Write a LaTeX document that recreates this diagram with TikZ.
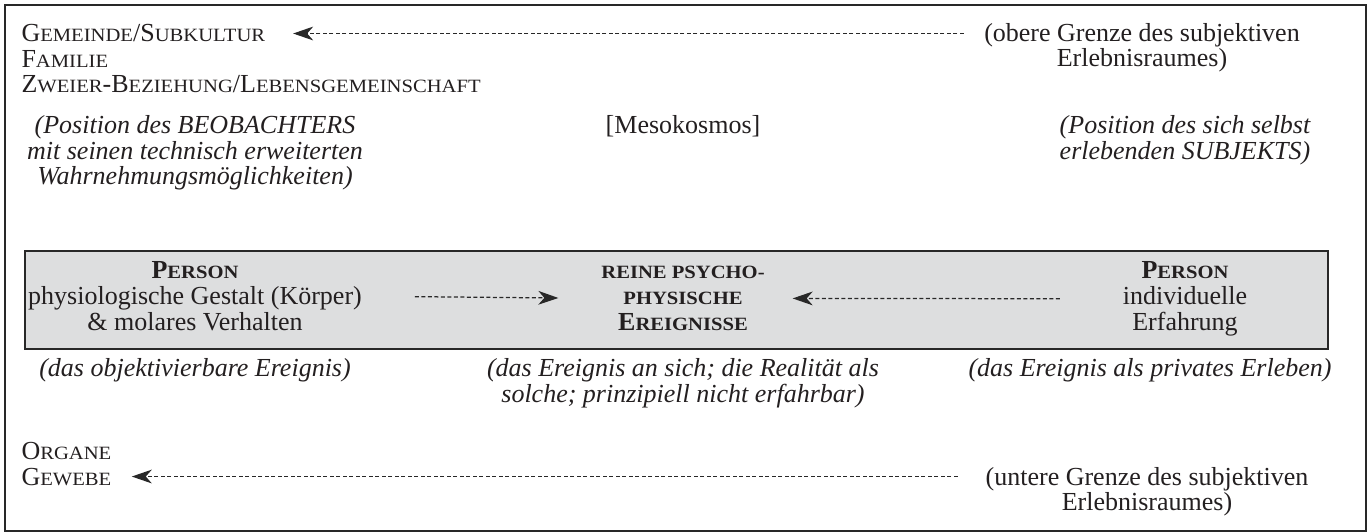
\documentclass[tikz,border=0pt]{standalone}
\usepackage{fontspec}
\setmainfont{Liberation Serif}
\newfontfamily\kapfont[FakeStretch=1.1]{Liberation Serif}
\usetikzlibrary{arrows.meta}

\definecolor{kastengrau}{RGB}{221,222,223}
\definecolor{rahmen}{RGB}{40,40,40}
\definecolor{schrift}{RGB}{35,31,32}

% Kapitaelchen von Hand
\newcommand{\kap}[2]{#1{\kapfont\fontsize{7.5}{10.2}\selectfont #2}}

\tikzset{
  ebene/.style={anchor=base west, inner sep=0pt},
  block/.style={anchor=base, align=center, inner sep=0pt},
  kursiv/.style={block, font=\fontsize{10.4}{10.2}\selectfont\itshape},
  pfeil/.style={-{Stealth[length=8pt,width=5.5pt,inset=2.4pt]}, dash pattern=on 1.6pt off 1pt, line width=0.5pt, rahmen}
}

\begin{document}
\begin{tikzpicture}[x=0.4pt, y=-0.4pt, font=\fontsize{10.4}{10.2}\selectfont, text=schrift]

      \useasboundingbox (0,0) rectangle (1372,532);
      \draw[rahmen, line width=0.5pt] (5,5) rectangle (1366,531);
      \filldraw[fill=kastengrau, draw=rahmen, line width=0.6pt] (25,251) rectangle (1328,349);

	% obere Ebenen
	\node[ebene] (gemeinde) at (21,42) {\kap{G}{EMEINDE}/\kap{S}{UBKULTUR}};
	\node[ebene] (familie) at (21,67.5) {\kap{F}{AMILIE}};
	\node[ebene] (zweier) at (21,93) {\kap{Z}{WEIER}-\kap{B}{EZIEHUNG}/\kap{L}{EBENSGEMEINSCHAFT}};
	\node[block] (oben) at (1142,67) {(obere Grenze des subjektiven\\Erlebnisraumes)};

	% (base = letzte Zeile)
	\node[kursiv] (beobachter) at (195,185) {(Position des BEOBACHTERS\\mit seinen technisch erweiterten\\Wahrnehmungsm\"oglichkeiten)};
	\node[block] (meso) at (683,134) {[Mesokosmos]};
	\node[kursiv] (subjekt) at (1185,159.5) {(Position des sich selbst\\erlebenden SUBJEKTS)};

	% im Kasten
	\node[block] (koerper) at (195,330) {\textbf{\kap{P}{ERSON}}\\physiologische Gestalt (K\"orper)\\\& molares Verhalten};
	\node[block] (reine) at (683,330) {\textbf{\kap{}{REINE PSYCHO-}}\\\textbf{\kap{}{PHYSISCHE}}\\\textbf{\kap{E}{REIGNISSE}}};
	\node[block] (erfahrung) at (1185,330) {\textbf{\kap{P}{ERSON}}\\individuelle\\Erfahrung};

	\node[kursiv] (objektiv) at (195,376) {(das objektivierbare Ereignis)};
	\node[kursiv] (ansich) at (683,402) {(das Ereignis an sich; die Realit\"at als\\solche; prinzipiell nicht erfahrbar)};
	\node[kursiv] (privat) at (1150,376) {(das Ereignis als privates Erleben)};

	% untere Ebenen
	\node[ebene] (organe) at (21,459) {\kap{O}{RGANE}};
	\node[ebene] (gewebe) at (21,485) {\kap{G}{EWEBE}};
	\node[block] (unten) at (1147,510.5) {(untere Grenze des subjektiven\\Erlebnisraumes)};

	\draw[pfeil, shorten <=8pt, shorten >=11pt] (gemeinde.east -| oben.west) -- (gemeinde.east);
	\draw[pfeil, shorten <=21pt, shorten >=17pt] (koerper.east) -- (reine.west);
	\draw[pfeil, shorten <=25pt, shorten >=11pt] (erfahrung.west) -- (reine.east);
	\draw[pfeil, shorten <=11pt, shorten >=8pt] (gewebe.east -| unten.west) -- (gewebe.east);
\end{tikzpicture}
\end{document}
